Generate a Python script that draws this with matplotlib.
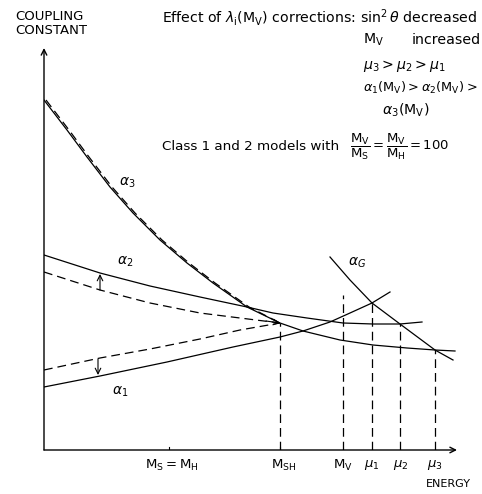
import matplotlib
matplotlib.use('Agg')
import matplotlib.pyplot as plt

plt.rcParams['font.family'] = ['DejaVu Sans']
plt.rcParams['mathtext.fontset'] = 'dejavusans'

# ---- data (schematic, arbitrary energy / coupling units) ----
a3_x = [0, 23, 43, 66, 89, 116, 143, 169, 203, 236, 259, 296, 329, 363, 391, 411]
a3_y = [350, 320, 293, 263, 237, 210, 187, 167, 143, 127, 119, 110, 105, 102, 100, 99]
a3d_x = [2, 25, 45, 68, 91, 118, 145, 171, 205, 236]
a3d_y = [350, 320, 293, 263, 237, 210, 187, 167, 143, 127]

a2_x = [0, 56, 106, 156, 203, 229, 263, 299, 329, 356, 378]
a2_y = [195, 177, 164, 153, 143, 137, 132, 127, 126, 126, 128]
a2d_x = [0, 56, 106, 156, 196, 236]
a2d_y = [178, 160, 147, 137, 132, 127]

a1_x = [0, 56, 123, 189, 236, 259, 286, 306, 328, 346]
a1_y = [63, 74, 88, 103, 113, 119, 128, 137, 147, 158]
a1d_x = [0, 56, 106, 156, 196, 236]
a1d_y = [80, 92, 101, 111, 120, 127]

aG_x = [286, 306, 328, 356, 391, 409]
aG_y = [193, 170, 147, 126, 100, 90]

vline_x = [236, 299, 328, 356, 391]
vline_top = [127, 155, 147, 126, 100]

tick_pos = [128, 240, 299, 328, 357, 391]
tick_labels = [r'$\mathrm{M_S = M_H}$', r'$\mathrm{M_{SH}}$', r'$\mathrm{M_V}$',
               r'$\mu_1$', r'$\mu_2$', r'$\mu_3$']

# ---- figure ----
fig = plt.figure(figsize=(4.82, 4.94), dpi=100)
ax = fig.add_axes([44 / 482, 44 / 494, 413 / 482, 402 / 494])
ax.set_xlim(0, 413)
ax.set_ylim(0, 402)
for s in ax.spines.values():
    s.set_visible(False)
ax.set_yticks([])
ax.set_xticks(tick_pos, tick_labels, fontsize=9.5)
ax.tick_params(axis='x', length=0, pad=6)

lw = 0.9
dash = (0, (7, 4))
ax.plot(a3_x, a3_y, color='black', lw=lw)
ax.plot(a3d_x, a3d_y, color='black', lw=lw, ls=dash)
ax.plot(a2_x, a2_y, color='black', lw=lw)
ax.plot(a2d_x, a2d_y, color='black', lw=lw, ls=dash)
ax.plot(a1_x, a1_y, color='black', lw=lw)
ax.plot(a1d_x, a1d_y, color='black', lw=lw, ls=dash)
ax.plot(aG_x, aG_y, color='black', lw=lw)
for xv, yt in zip(vline_x, vline_top):
    ax.plot([xv, xv], [0, yt], color='black', lw=lw, ls=dash)

# axes arrows
ax.annotate('', xy=(413, 0), xytext=(0, 0),
            arrowprops=dict(arrowstyle='->', lw=1.0, color='black', shrinkA=0, shrinkB=0),
            annotation_clip=False)
ax.annotate('', xy=(0, 402), xytext=(0, 0),
            arrowprops=dict(arrowstyle='->', lw=1.0, color='black', shrinkA=0, shrinkB=0),
            annotation_clip=False)
# small ticks
for xv in [125, 236]:
    ax.plot([xv, xv], [0, 3], color='black', lw=0.8)

# correction arrows
ax.annotate('', xy=(56, 176), xytext=(56, 160),
            arrowprops=dict(arrowstyle='->', lw=0.8, color='black', shrinkA=0, shrinkB=0))
ax.annotate('', xy=(54, 75), xytext=(54, 91),
            arrowprops=dict(arrowstyle='->', lw=0.8, color='black', shrinkA=0, shrinkB=0))
# dashed arrow head at unification point
ax.annotate('', xy=(236, 127), xytext=(222, 129),
            arrowprops=dict(arrowstyle='->', lw=0.8, color='black', shrinkA=0, shrinkB=0))

# curve labels
ax.text(83, 267, r'$\alpha_3$', fontsize=10, ha='center', va='center')
ax.text(81, 188, r'$\alpha_2$', fontsize=10, ha='center', va='center')
ax.text(76, 58, r'$\alpha_1$', fontsize=10, ha='center', va='center')
ax.text(313, 187, r'$\alpha_G$', fontsize=10, ha='center', va='center')

# axis titles
ax.text(-29, 433, 'COUPLING', fontsize=9.5, ha='left', va='center', clip_on=False)
ax.text(-29, 419, 'CONSTANT', fontsize=9.5, ha='left', va='center', clip_on=False)
ax.text(382, -34, 'ENERGY', fontsize=8, ha='left', va='center', clip_on=False)

# annotation block
fs = 10.2
ax.text(118, 432, r'Effect of $\lambda_\mathrm{i}(\mathrm{M_V})$ corrections: $\sin^2\theta$ decreased',
        fontsize=fs, ha='left', va='center', clip_on=False)
ax.text(319, 410, r'$\mathrm{M_V}$', fontsize=fs, ha='left', va='center', clip_on=False)
ax.text(368, 410, 'increased', fontsize=fs, ha='left', va='center', clip_on=False)
ax.text(319, 384, r'$\mu_3 > \mu_2 > \mu_1$', fontsize=fs, ha='left', va='center', clip_on=False)
ax.text(319, 362, r'$\alpha_1(\mathrm{M_V}) > \alpha_2(\mathrm{M_V}) >$', fontsize=9.3,
        ha='left', va='center', clip_on=False)
ax.text(338, 340, r'$\alpha_3(\mathrm{M_V})$', fontsize=fs, ha='left', va='center', clip_on=False)
ax.text(118, 303, 'Class 1 and 2 models with', fontsize=9.7, ha='left', va='center', clip_on=False)
ax.text(306, 303, r'$\dfrac{\mathrm{M_V}}{\mathrm{M_S}} = \dfrac{\mathrm{M_V}}{\mathrm{M_H}} = 100$',
        fontsize=9.5, ha='left', va='center', clip_on=False)

fig.savefig('out.png', dpi=100)
